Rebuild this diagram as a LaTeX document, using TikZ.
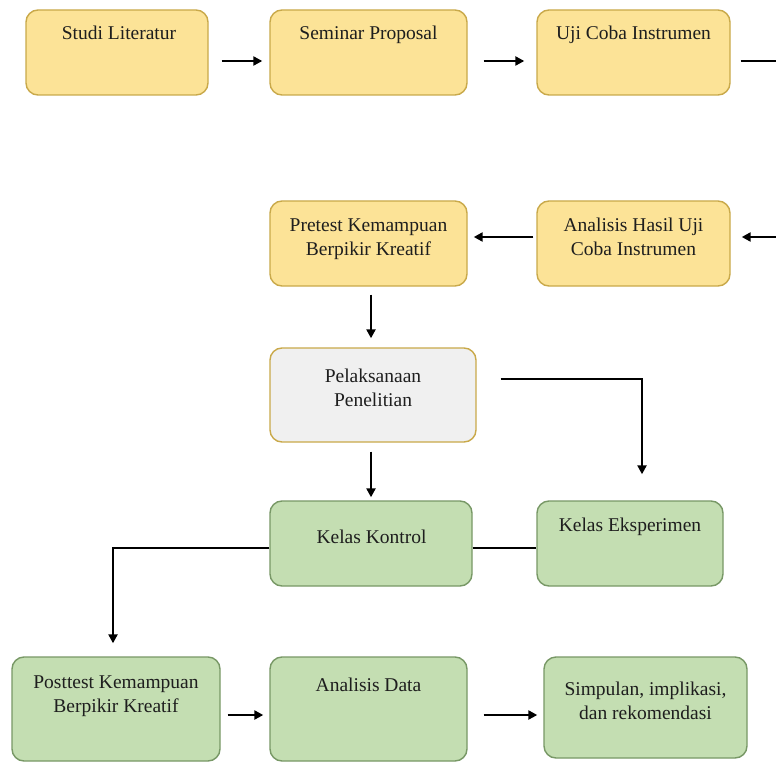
\documentclass[tikz,border=0pt]{standalone}
\usepackage{fontspec}
\setmainfont{Liberation Serif}
\usetikzlibrary{arrows.meta}
\definecolor{yfill}{HTML}{FCE397}
\definecolor{ydraw}{HTML}{C9A94A}
\definecolor{gfill}{HTML}{C4DEB2}
\definecolor{gdraw}{HTML}{789866}
\definecolor{grfill}{HTML}{F0F0F0}
\definecolor{tcol}{HTML}{1E1E1E}
\tikzset{
  base/.style={rounded corners=12pt, line width=1.4pt, inner sep=0pt},
  ybox/.style={base, fill=yfill, draw=ydraw},
  gbox/.style={base, fill=gfill, draw=gdraw},
  pbox/.style={base, fill=grfill, draw=ydraw},
  txt/.style={font=\fontsize{19.5}{24}\selectfont, align=center, inner sep=0pt, text=tcol},
  arr/.style={line width=2.5pt, -{Triangle[length=9pt,width=9pt]}},
  ln/.style={line width=2.5pt}
}
\begin{document}
\begin{tikzpicture}[x=1pt,y=-1pt]
\useasboundingbox (0,0) rectangle (776,762);
\clip (0,0) rectangle (776,762);
\fill[white] (0,0) rectangle (776,762);
% boxes
\node[ybox, minimum width=182pt, minimum height=85pt] (studi) at (117,52.5) {};
\node[ybox, minimum width=197pt, minimum height=85pt] (semi) at (368.5,52.5) {};
\node[ybox, minimum width=193pt, minimum height=85pt] (uji) at (633.5,52.5) {};
\node[ybox, minimum width=197pt, minimum height=85pt] (pre) at (368.5,243.5) {};
\node[ybox, minimum width=193pt, minimum height=85pt] (ana) at (633.5,243.5) {};
\node[pbox, minimum width=206pt, minimum height=94pt] (pel) at (373,395) {};
\node[gbox, minimum width=202pt, minimum height=85pt] (kon) at (371,543.5) {};
\node[gbox, minimum width=186pt, minimum height=85pt] (eks) at (630,543.5) {};
\node[gbox, minimum width=208pt, minimum height=104pt] (post) at (116,709) {};
\node[gbox, minimum width=197pt, minimum height=104pt] (dat) at (368.5,709) {};
\node[gbox, minimum width=203pt, minimum height=101pt] (sim) at (645.5,707.5) {};
% texts
\node[txt] (tstudi) at (119,34.5) {\strut Studi Literatur};
\node[txt] (tsemi) at (368.5,34.5) {\strut Seminar Proposal};
\node[txt] (tuji) at (633.5,34.5) {\strut Uji Coba Instrumen};
\node[txt] (tpre) at (368.5,239) {\strut Pretest Kemampuan\\\strut Berpikir Kreatif};
\node[txt] (tana) at (633.5,239) {\strut Analisis Hasil Uji\\\strut Coba Instrumen};
\node[txt] (tpel) at (373,390) {\strut Pelaksanaan\\\strut Penelitian};
\node[txt] (tkon) at (371.5,538.5) {\strut Kelas Kontrol};
\node[txt] (teks) at (630,526.5) {\strut Kelas Eksperimen};
\node[txt] (tpost) at (116,696) {\strut Posttest Kemampuan\\\strut Berpikir Kreatif};
\node[txt] (tdat) at (368.5,686.5) {\strut Analisis Data};
\node[txt] (tsim) at (645.5,702.5) {\strut Simpulan, implikasi,\\\strut dan rekomendasi};
% connectors
\draw[arr] ([shift={(13,8.5)}]studi.east) -- ([shift={(-7,8.5)}]semi.west);
\draw[arr] ([shift={(16,8.5)}]semi.east) -- ([shift={(-12,8.5)}]uji.west);
\coordinate (offr) at (800,61);
\coordinate (offr2) at (800,237);
\draw[arr] ([shift={(10,8.5)}]uji.east) -- (offr) -- (offr2) -- ([shift={(11,-6.5)}]ana.east);
\draw[arr] ([shift={(-3,-6.5)}]ana.west) -- ([shift={(6,-6.5)}]pre.east);
\draw[arr] ([shift={(2.5,8)}]pre.south) -- ([shift={(-2,-9)}]pel.north);
\draw[arr] ([shift={(24,-16)}]pel.east) -| ([shift={(12,-26)}]eks.north);
\draw[arr] ([shift={(-2,9)}]pel.south) -- ([shift={(0,-3)}]kon.north);
\draw[ln] ([shift={(0,4.5)}]kon.east) -- ([shift={(0,4.5)}]eks.west);
\draw[arr] ([shift={(0,4.5)}]kon.west) -| ([shift={(-3,-13)}]post.north);
\draw[arr] ([shift={(7,6)}]post.east) -- ([shift={(-6,6)}]dat.west);
\draw[arr] ([shift={(16,6)}]dat.east) -- ([shift={(-6,7.5)}]sim.west);
\end{tikzpicture}
\end{document}
